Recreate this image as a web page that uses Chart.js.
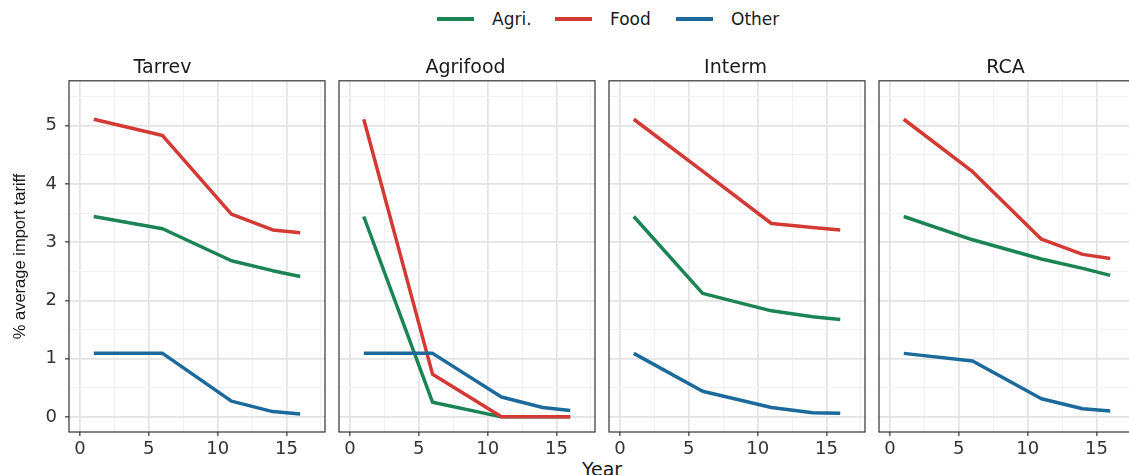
<!DOCTYPE html>
<html>
<head>
<meta charset="utf-8">
<script src="https://cdn.jsdelivr.net/npm/chart.js@4.4.1/dist/chart.umd.min.js"></script>
<style>
body { margin: 0; background: #fff; overflow: hidden; }
#wrap { position: relative; width: 1129px; height: 475px; overflow: hidden; font-family: "DejaVu Sans", sans-serif; color: #1a1a1a; }
#wrap canvas { position: absolute; }
.key { position: absolute; height: 4px; top: 17px; width: 37px; }
.lbl { position: absolute; top: 9px; font-size: 17px; line-height: 20px; white-space: nowrap; }
#xtitle { position: absolute; left: 0; width: 1204px; top: 458px; text-align: center; font-size: 19px; line-height: 22px; }
</style>
</head>
<body>
<div id="wrap">
    <div class="key" style="left:437px;background:#1b8454"></div>
    <div class="lbl" style="left:492px">Agri.</div>
    <div class="key" style="left:555px;background:#d23a33"></div>
    <div class="lbl" style="left:610px">Food</div>
    <div class="key" style="left:676px;background:#1c6a9b"></div>
    <div class="lbl" style="left:731px">Other</div>
    <div id="xtitle">Year</div>
</div>

<script>
// datos (un valor por año, por panel)
var years = [1, 6, 11, 14, 16];
var panelNames = ['Tarrev', 'Agrifood', 'Interm', 'RCA'];
var seriesNames = ['Agri.', 'Food', 'Other'];

var agriValues = [
    [3.44, 3.23, 2.68, 2.51, 2.41],
    [3.44, 0.25, 0.00, 0.00, 0.00],
    [3.44, 2.12, 1.82, 1.72, 1.67],
    [3.44, 3.04, 2.71, 2.55, 2.43]
];
var foodValues = [
    [5.11, 4.83, 3.48, 3.21, 3.16],
    [5.11, 0.73, 0.00, 0.00, 0.00],
    [5.11, 4.22, 3.32, 3.25, 3.21],
    [5.11, 4.21, 3.05, 2.79, 2.72]
];
var otherValues = [
    [1.09, 1.09, 0.27, 0.09, 0.05],
    [1.09, 1.09, 0.34, 0.16, 0.11],
    [1.09, 0.44, 0.16, 0.07, 0.06],
    [1.09, 0.96, 0.31, 0.14, 0.10]
];

var xTicks = [0, 5, 10, 15];
var yTicks = [0, 1, 2, 3, 4, 5];

var seriesColors = ['#1b8454', '#d23a33', '#1c6a9b'];
var panelLeft = [69, 339, 609, 879];
var panelWidth = 256;

// lineas de rejilla: mayores en los ticks, menores a mitad de camino
var xGrid = [];
xTicks.forEach(function (v) { xGrid.push(v, v + 2.5); });
var yGrid = [];
yTicks.forEach(function (v) { yGrid.push(v, v + 0.5); });

function esMayor(v, lista) {
    return lista.indexOf(v) !== -1;
}

var cajaPanel = {
    id: 'cajaPanel',
    afterDraw: function (chart) {
        var a = chart.chartArea;
        var ctx = chart.ctx;
        ctx.save();
        ctx.strokeStyle = '#333333';
        ctx.lineWidth = 1.2;
        ctx.strokeRect(a.left, a.top, a.right - a.left, a.bottom - a.top);
        ctx.restore();
    }
};

function crearPanel(i) {
    var yw = i === 0 ? 69 : 3;
    var cv = document.createElement('canvas');
    cv.width = yw + panelWidth + 3;
    cv.height = 405;
    cv.style.left = (panelLeft[i] - yw) + 'px';
    cv.style.top = '57px';
    document.getElementById('wrap').appendChild(cv);

    var series = [agriValues[i], foodValues[i], otherValues[i]];
    var datasets = series.map(function (vals, k) {
        return {
            label: seriesNames[k],
            data: years.map(function (y, j) { return { x: y, y: vals[j] }; }),
            borderColor: seriesColors[k],
            borderWidth: 3.5,
            borderJoinStyle: 'round',
            pointRadius: 0,
            tension: 0,
            order: 2 - k
        };
    });

    var tickFont = { family: 'DejaVu Sans', size: 18 };

    return new Chart(cv.getContext('2d'), {
        type: 'line',
        data: { datasets: datasets },
        plugins: [cajaPanel],
        options: {
            responsive: false,
            animation: false,
            devicePixelRatio: 1,
            layout: { padding: { left: 0, right: 3, top: 0, bottom: 0 } },
            plugins: {
                legend: { display: false },
                tooltip: { enabled: false },
                title: {
                    display: true,
                    text: panelNames[i],
                    color: '#1a1a1a',
                    font: { family: 'DejaVu Sans', size: 19, weight: 'normal', lineHeight: 1.2 },
                    padding: { top: 0, bottom: 1 }
                }
            },
            scales: {
                x: {
                    type: 'linear',
                    min: -0.8,
                    max: 17.8,
                    afterBuildTicks: function (s) {
                        s.ticks = xGrid.map(function (v) { return { value: v }; });
                    },
                    afterFit: function (s) { s.height = 30; },
                    border: { display: false },
                    grid: {
                        color: function (c) { return esMayor(c.tick.value, xTicks) ? '#e3e3e3' : '#f1f1f1'; },
                        lineWidth: function (c) { return esMayor(c.tick.value, xTicks) ? 1.7 : 1; },
                        tickColor: function (c) { return esMayor(c.tick.value, xTicks) ? '#333333' : 'rgba(0,0,0,0)'; },
                        tickLength: 4,
                        tickWidth: 1.2
                    },
                    ticks: {
                        autoSkip: false,
                        maxRotation: 0,
                        padding: 3,
                        color: '#333333',
                        font: tickFont,
                        callback: function (v) { return esMayor(v, xTicks) ? v : ''; }
                    }
                },
                y: {
                    type: 'linear',
                    min: -0.26,
                    max: 5.77,
                    afterBuildTicks: function (s) {
                        s.ticks = yGrid.map(function (v) { return { value: v }; });
                    },
                    afterFit: function (s) { s.width = yw; },
                    border: { display: false },
                    grid: {
                        color: function (c) { return esMayor(c.tick.value, yTicks) ? '#e3e3e3' : '#f1f1f1'; },
                        lineWidth: function (c) { return esMayor(c.tick.value, yTicks) ? 1.7 : 1; },
                        tickColor: function (c) { return (i === 0 && esMayor(c.tick.value, yTicks)) ? '#333333' : 'rgba(0,0,0,0)'; },
                        tickLength: 4,
                        tickWidth: 1.2
                    },
                    ticks: {
                        display: i === 0,
                        autoSkip: false,
                        padding: 8,
                        color: '#333333',
                        font: tickFont,
                        callback: function (v) { return esMayor(v, yTicks) ? v : ''; }
                    },
                    title: {
                        display: i === 0,
                        text: '% average import tariff',
                        color: '#1a1a1a',
                        font: { family: 'Liberation Sans', size: 16.5 },
                        padding: { top: 11, bottom: 0 }
                    }
                }
            }
        }
    });
}

panelNames.forEach(function (n, i) { crearPanel(i); });
</script>
</body>
</html>
